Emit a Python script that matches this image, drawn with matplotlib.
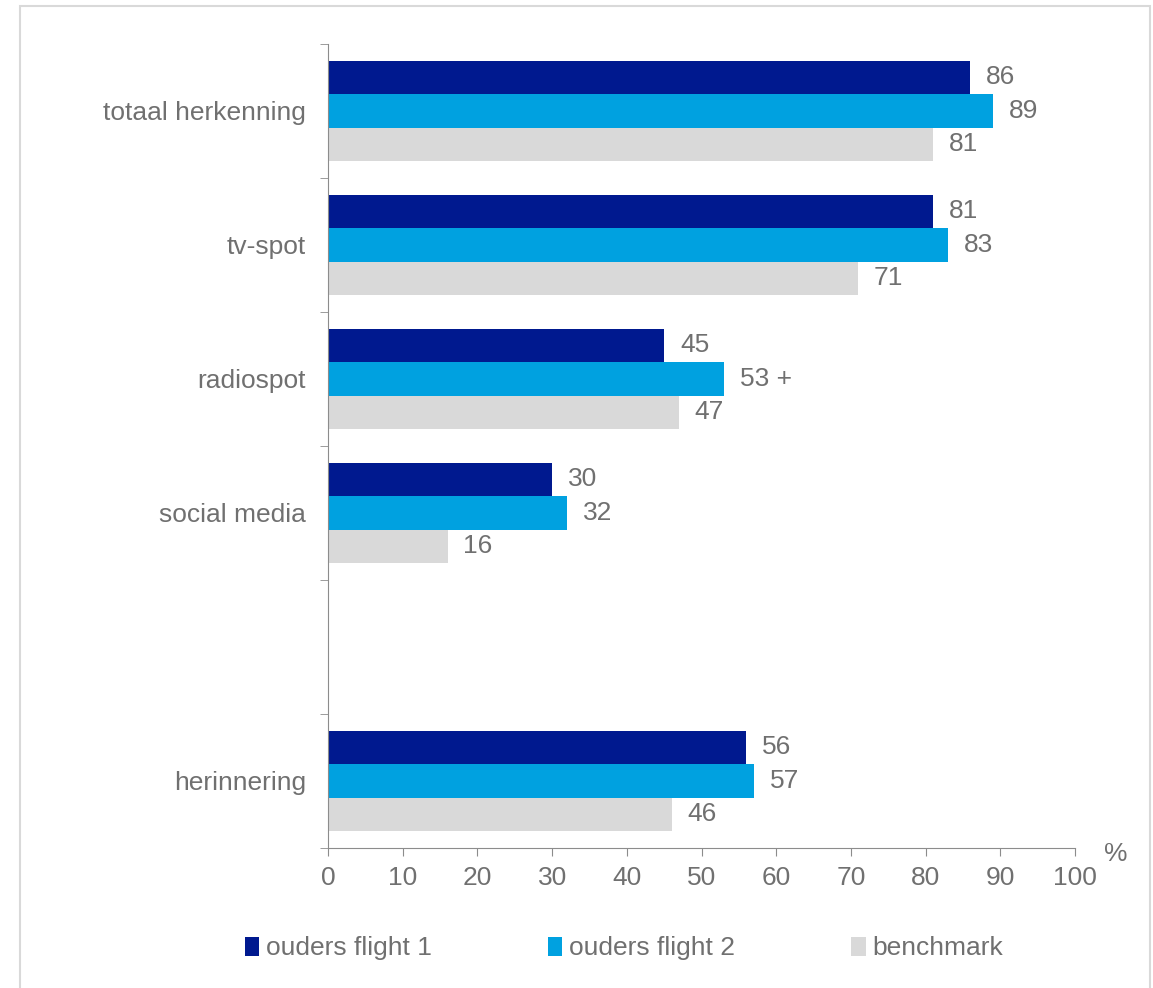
import numpy as np
import matplotlib.pyplot as plt
from matplotlib.patches import Rectangle, Patch
from matplotlib.ticker import FixedLocator

categorieen = ['totaal herkenning', 'tv-spot', 'radiospot', 'social media', 'herinnering']
flight1 = [86, 81, 45, 30, 56]
flight2 = [89, 83, 53, 32, 57]
benchmark = [81, 71, 47, 16, 46]
flight2_extra = ['', '', ' +', '', '']
series_namen = ['ouders flight 1', 'ouders flight 2', 'benchmark']
kleuren = ['#00198F', '#00A1E0', '#D9D9D9']
x_ticks = list(range(0, 101, 10))

plt.rcParams['font.family'] = ['Liberation Sans', 'DejaVu Sans']
tekstkleur = '#707070'
askleur = '#8c8c8c'
fs = 19

fig = plt.figure(figsize=(11.53, 9.88), dpi=100)
ax = fig.add_axes([0.2845, 0.1417, 0.6479, 0.8138])

# lege plek tussen social media en herinnering
posities = np.array([0, 1, 2, 3, 5])
hoogte = 0.25
offsets = [-hoogte, 0, hoogte]

for reeks, kleur, off in zip([flight1, flight2, benchmark], kleuren, offsets):
    ax.barh(posities + off, reeks, height=hoogte, color=kleur, edgecolor='none')

for i, pos in enumerate(posities):
    ax.text(flight1[i] + 2.1, pos - hoogte, str(flight1[i]), va='center', ha='left',
            fontsize=fs, color=tekstkleur)
    ax.text(flight2[i] + 2.1, pos, str(flight2[i]) + flight2_extra[i], va='center', ha='left',
            fontsize=fs, color=tekstkleur)
    ax.text(benchmark[i] + 2.1, pos + hoogte, str(benchmark[i]), va='center', ha='left',
            fontsize=fs, color=tekstkleur)

ax.set_xlim(0, 100)
ax.set_ylim(5.5, -0.5)
ax.set_xticks(x_ticks)
ax.set_xticklabels([str(t) for t in x_ticks], fontsize=fs, color=tekstkleur)
ax.set_yticks(posities)
ax.set_yticklabels(categorieen, fontsize=fs, color=tekstkleur)
ax.yaxis.set_minor_locator(FixedLocator(np.arange(-0.5, 6, 1)))
ax.tick_params(axis='y', which='major', length=0, pad=16)
ax.tick_params(axis='y', which='minor', length=6, color=askleur, direction='out')
ax.tick_params(axis='x', length=6, color=askleur, direction='out', pad=7)

for s in ['top', 'right']:
    ax.spines[s].set_visible(False)
for s in ['left', 'bottom']:
    ax.spines[s].set_color(askleur)

ax.text(1.054, -0.008, '%', transform=ax.transAxes, fontsize=fs, color=tekstkleur,
        ha='center', va='center')

handles = [Patch(facecolor=k, edgecolor='none') for k in kleuren]
fig.legend(handles, series_namen, loc='center', bbox_to_anchor=(0.541, 0.04), ncol=3,
           frameon=False, fontsize=fs, labelcolor=tekstkleur, handlelength=0.55,
           handleheight=0.75, handletextpad=0.25, columnspacing=4.4)

fig.patches.append(Rectangle((20 / 1153, -0.05), 1130 / 1153, 1.05 - 6 / 988,
                             transform=fig.transFigure, fill=False,
                             edgecolor='#d9d9d9', linewidth=1.5))

fig.savefig('out.png', dpi=100)
